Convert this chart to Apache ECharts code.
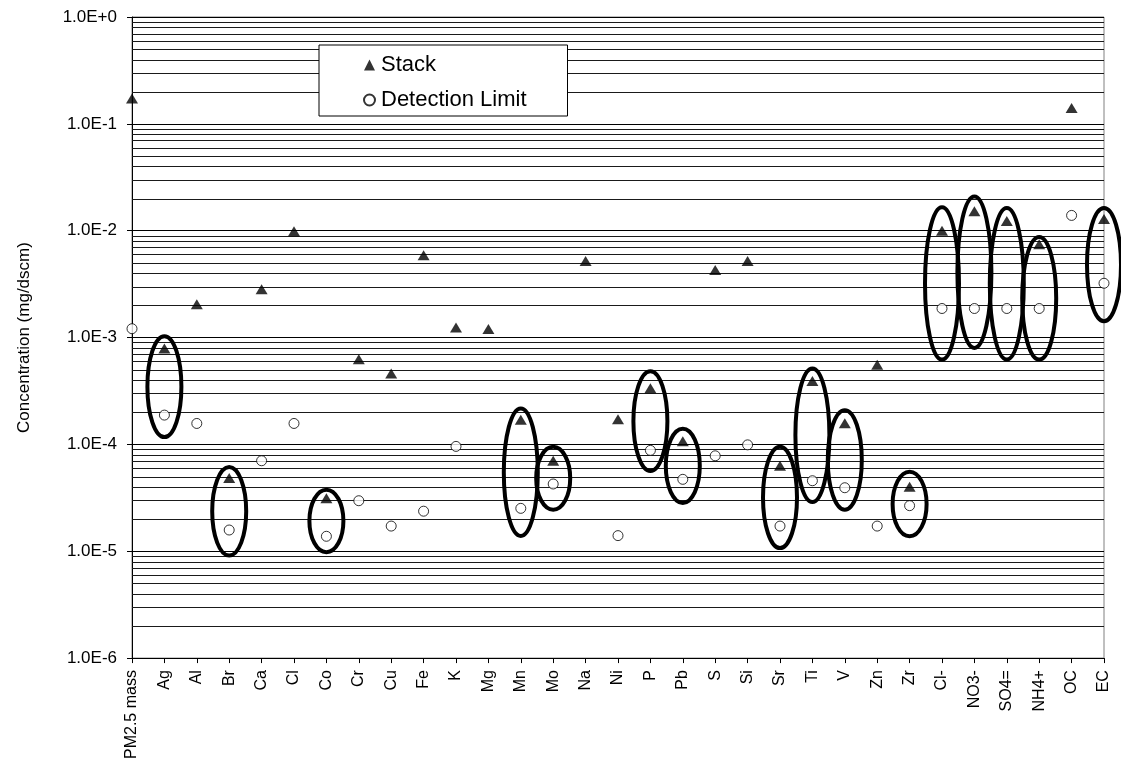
<!DOCTYPE html>
<html>
<head>
<meta charset="utf-8">
<script src="https://cdn.jsdelivr.net/npm/echarts@6/dist/echarts.min.js"></script>
<style>
html,body{margin:0;padding:0;background:#fff;}
#chart{width:1121px;height:762px;}
</style>
</head>
<body>
<div id="chart"></div>
<script>
const categories = ['PM2.5 mass','Ag','Al','Br','Ca','Cl','Co','Cr','Cu','Fe','K','Mg','Mn','Mo','Na','Ni','P','Pb','S','Si','Sr','Ti','V','Zn','Zr','Cl-','NO3-','SO4=','NH4+','OC','EC'];
const stackValues = [0.173,7.9e-4,2.05e-3,4.84e-5,2.83e-3,9.9e-3,3.13e-5,6.27e-4,4.61e-4,5.9e-3,1.24e-3,1.2e-3,1.70e-4,7.03e-5,5.2e-3,1.72e-4,3.36e-4,1.07e-4,4.28e-3,5.2e-3,6.3e-5,3.93e-4,1.58e-4,5.55e-4,4.02e-5,1.0e-2,1.52e-2,1.23e-2,7.45e-3,0.141,1.29e-2];
const detectionValues = [1.21e-3,1.88e-4,1.57e-4,1.58e-5,7.03e-5,1.57e-4,1.38e-5,2.97e-5,1.72e-5,2.37e-5,9.58e-5,null,2.52e-5,4.26e-5,null,1.40e-5,8.79e-5,4.71e-5,7.82e-5,9.9e-5,1.72e-5,4.57e-5,3.93e-5,1.72e-5,2.67e-5,1.87e-3,1.87e-3,1.87e-3,1.87e-3,1.39e-2,3.22e-3];
const ellipseCategories = ['Ag','Br','Co','Mn','Mo','P','Pb','Sr','Ti','V','Zr','Cl-','NO3-','SO4=','NH4+','EC'];
const ellipseTop =    [1.03e-3,6.14e-5,3.77e-5,2.17e-4,9.5e-5,4.84e-4,1.40e-4,9.5e-5,5.13e-4,2.09e-4,5.55e-5,1.66e-2,2.09e-2,1.63e-2,8.71e-3,1.63e-2];
const ellipseBottom = [1.17e-4,9.1e-6,9.8e-6,1.39e-5,2.45e-5,5.63e-5,2.83e-5,1.07e-5,2.89e-5,2.45e-5,1.38e-5,6.22e-4,8.0e-4,6.22e-4,6.22e-4,1.42e-3];
const yMin = 1e-6, yMax = 1;
const decades = [1e-6,1e-5,1e-4,1e-3,1e-2,1e-1];
const minorMultipliers = [2,3,4,5,6,7,8,9];

const FONT = 'Liberation Sans, Arial, sans-serif';
const minorLines = [];
decades.forEach(d => minorMultipliers.forEach(m => minorLines.push([0, d * m])));

const chart = echarts.init(document.getElementById('chart'), null, {renderer: 'canvas'});
chart.setOption({
  animation: false,
  backgroundColor: '#fff',
  grid: {left: 132, right: 17, top: 17, bottom: 103, show: true, borderColor: '#808080', borderWidth: 1},
  legend: {
    data: [{name: 'Stack', icon: 'triangle'}, {name: 'Detection Limit', icon: 'circle'}],
    orient: 'vertical', left: 319, top: 45,
    padding: [9, 41, 5, 44],
    itemGap: 13, itemWidth: 11, itemHeight: 11,
    borderColor: '#000', borderWidth: 1, backgroundColor: '#fff',
    textStyle: {fontSize: 22, fontFamily: FONT, color: '#000', padding: [0, 0, 0, 1]}
  },
  xAxis: {
    type: 'category', data: categories, boundaryGap: false,
    axisLine: {lineStyle: {color: '#000', width: 1}},
    axisTick: {show: true, length: 5, lineStyle: {color: '#000'}},
    axisLabel: {rotate: 90, interval: 0, fontSize: 16, fontFamily: FONT, color: '#000', margin: 12},
    splitLine: {show: false}
  },
  yAxis: {
    type: 'log', logBase: 10, min: yMin, max: yMax,
    name: 'Concentration (mg/dscm)', nameLocation: 'middle', nameGap: 99, nameRotate: 90,
    nameTextStyle: {fontSize: 17, fontFamily: FONT, color: '#000'},
    axisLine: {show: true, lineStyle: {color: '#000', width: 1}},
    axisTick: {show: true, length: 5, lineStyle: {color: '#000'}},
    axisLabel: {fontSize: 17, fontFamily: FONT, color: '#000', margin: 15,
      formatter: v => { const e = Math.round(Math.log10(v)); return '1.0E' + (e >= 0 ? '+' : '') + e; }},
    splitLine: {show: true, lineStyle: {color: '#000', width: 1}}
  },
  series: [
    {
      name: 'gridMinor', type: 'custom', silent: true, z: 1, clip: false,
      data: minorLines,
      encode: {x: 0, y: 1},
      renderItem: (params, api) => {
        const cs = params.coordSys;
        const p = api.coord([0, api.value(1)]);
        const y = Math.round(p[1]) + 0.5;
        return {
          type: 'line',
          shape: {x1: cs.x, y1: y, x2: cs.x + cs.width, y2: y},
          style: {stroke: '#1a1a1a', lineWidth: 1}
        };
      }
    },
    {
      name: 'ellipses', type: 'custom', z: 2, silent: true, clip: false,
      data: ellipseCategories.map((c, i) => [c, ellipseTop[i], ellipseBottom[i]]),
      encode: {x: 0, y: [1, 2]},
      renderItem: (params, api) => {
        const x = api.value(0);
        const p1 = api.coord([x, api.value(1)]);
        const p2 = api.coord([x, api.value(2)]);
        return {
          type: 'ellipse',
          shape: {cx: p1[0], cy: (p1[1] + p2[1]) / 2, rx: 17, ry: (p2[1] - p1[1]) / 2},
          style: {fill: 'none', stroke: '#000', lineWidth: 4}
        };
      }
    },
    {
      name: 'Stack', type: 'scatter', z: 3, clip: false,
      symbol: 'triangle', symbolSize: [12, 10],
      itemStyle: {color: '#000'},
      data: stackValues
    },
    {
      name: 'Detection Limit', type: 'scatter', z: 4, clip: false,
      symbol: 'circle', symbolSize: 10,
      itemStyle: {color: '#fff', borderColor: '#000', borderWidth: 1},
      data: detectionValues.map(v => v === null ? '-' : v)
    }
  ]
});
</script>
</body>
</html>
